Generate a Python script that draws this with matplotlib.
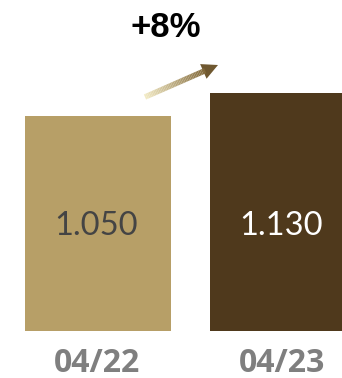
import numpy as np
import matplotlib.pyplot as plt
from matplotlib.collections import LineCollection
from matplotlib.patches import Polygon
from matplotlib.transforms import blended_transform_factory

# Headcount at each reporting date
periods = ['04/22', '04/23']
values = [1050, 1130]
value_labels = ['1.050', '1.130']
growth_label = '+8%'

bar_colors = ['#b79f67', '#4f391c']
label_colors = ['#444444', '#ffffff']

W, H = 342, 378
fig = plt.figure(figsize=(W / 100, H / 100), dpi=100)
ax = fig.add_axes([0, 47 / H, 1, 1 - 47 / H])

x = np.arange(len(periods))
ax.bar(x, values, width=0.79, color=bar_colors)
ax.set_xlim(-0.530, 1.319)
ax.set_ylim(302, 1453)
ax.axis('off')

for xi, lbl, c in zip(x, value_labels, label_colors):
    ax.text(xi - 0.01, 636, lbl, ha='center', va='baseline', fontsize=23.5,
            family='Lato', color=c)

trans = blended_transform_factory(ax.transData, ax.transAxes)
for xi, p in zip(x, periods):
    ax.text(xi - 0.005, -0.124, p, ha='center', va='baseline', fontsize=23,
            family='Open Sans', fontweight='bold', color='#7f7f7f',
            transform=trans, clip_on=False)

fig.text(166 / W, 1 - 37 / H, growth_label, ha='center', va='baseline',
         fontsize=25, family='Liberation Sans', fontweight='bold', color='black')

# gradient arrow, laid out in pixel units then scaled to figure fraction
tail = np.array([145.0, H - 97.0])
tip = np.array([218.0, H - 65.0])
d = tip - tail
u = d / np.linalg.norm(d)
n = np.array([-u[1], u[0]])
head_len, head_half = 16.0, 8.0
base = tip - u * head_len

steps = 40
pts = tail + np.outer(np.linspace(0, 1, steps + 1), base - tail + u * 2)
segs = np.stack([pts[:-1], pts[1:]], axis=1) / np.array([W, H])
c0 = np.array([242, 234, 196]) / 255
c1 = np.array([130, 105, 58]) / 255
cols = [c0 + (c1 - c0) * t for t in np.linspace(0, 1, steps)]
lc = LineCollection(segs, colors=cols, linewidths=4.0, transform=fig.transFigure,
                    capstyle='butt')
fig.add_artist(lc)

head = np.array([tip, base + n * head_half, base - n * head_half]) / np.array([W, H])
fig.add_artist(Polygon(head, closed=True, facecolor='#6f5830', edgecolor='none',
                       transform=fig.transFigure))

fig.savefig('out.png', dpi=100)
